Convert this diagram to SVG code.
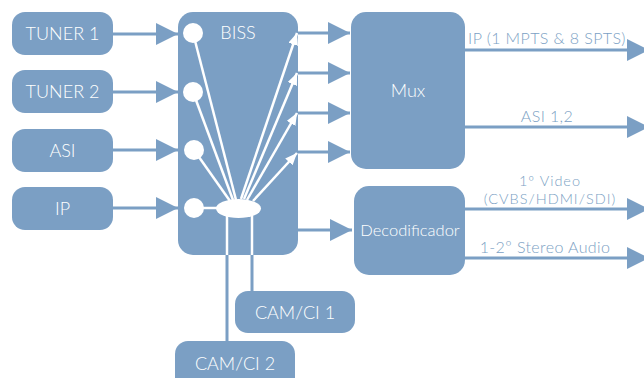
<svg xmlns="http://www.w3.org/2000/svg" width="644" height="378" viewBox="0 0 644 378">
<defs>
<style>
.box{fill:#7b9fc4}
.t{font-family:Lato,"Open Sans","Liberation Sans",sans-serif;font-weight:300;fill:#ffffff;text-anchor:middle}
.lbl{font-family:Lato,"Open Sans","Liberation Sans",sans-serif;font-weight:300;fill:#7b9fc4;text-anchor:middle;font-size:16px;letter-spacing:0.4px}
.sm{font-size:14.5px;letter-spacing:1px}
.c{stroke:#7b9fc4;stroke-width:3;fill:none}
.w{stroke:#ffffff;stroke-width:2.5;fill:none}
</style>
<marker id="ab" markerUnits="userSpaceOnUse" markerWidth="22" markerHeight="22" viewBox="0 0 20 20" refX="20" refY="10" orient="auto">
<path d="M0,0 L20,10 L0,20 Z" fill="#7b9fc4"/>
</marker>
<marker id="aw" markerUnits="userSpaceOnUse" markerWidth="12" markerHeight="10" viewBox="0 0 12 10" refX="12" refY="5" orient="auto">
<path d="M0,0 L12,5 L0,10 Z" fill="#ffffff"/>
</marker>
</defs>

<g id="tuner1"><rect class="box" x="12" y="12" width="101" height="43" rx="13"/><text class="t" x="62.5" y="40" font-size="18">TUNER 1</text></g>
<g id="tuner2"><rect class="box" x="12" y="70" width="101" height="43" rx="13"/><text class="t" x="62.5" y="98" font-size="18">TUNER 2</text></g>
<g id="asi"><rect class="box" x="12" y="129" width="101" height="43" rx="13"/><text class="t" x="62.5" y="157" font-size="18">ASI</text></g>
<g id="ip"><rect class="box" x="12" y="187" width="101" height="43" rx="13"/><text class="t" x="62.5" y="215" font-size="18">IP</text></g>

<g id="biss">
<rect class="box" x="178" y="12" width="120" height="243" rx="15"/>
<text class="t" x="238" y="39" font-size="18">BISS</text>
<circle cx="193" cy="33" r="10" fill="#fff"/>
<circle cx="193" cy="92" r="10" fill="#fff"/>
<circle cx="194" cy="150" r="10" fill="#fff"/>
<circle cx="194" cy="208" r="10" fill="#fff"/>
<ellipse cx="238.5" cy="208.5" rx="22.5" ry="9.5" fill="#fff"/>
<g class="w">
<line x1="194" y1="208" x2="217" y2="208"/>
<line x1="193" y1="33" x2="236" y2="200"/>
<line x1="193" y1="92" x2="233" y2="200"/>
<line x1="194" y1="150" x2="230" y2="201"/>
<line x1="241" y1="199" x2="297" y2="33" marker-end="url(#aw)"/>
<line x1="244" y1="199" x2="297" y2="73" marker-end="url(#aw)"/>
<line x1="247" y1="200" x2="297" y2="113" marker-end="url(#aw)"/>
<line x1="253" y1="201" x2="297" y2="153" marker-end="url(#aw)"/>
<line x1="227" y1="215" x2="227" y2="255"/>
<line x1="252" y1="215" x2="252" y2="255"/>
</g>
</g>

<g id="mux"><rect class="box" x="351" y="12" width="114" height="157" rx="15"/><text class="t" x="408" y="97" font-size="18">Mux</text></g>
<g id="decodificador"><rect class="box" x="354" y="186" width="111" height="89" rx="15"/><text class="t" x="410" y="236" font-size="16.5">Decodificador</text></g>
<g id="camci1"><rect class="box" x="235" y="291" width="120" height="42" rx="13"/><text class="t" x="295" y="319" font-size="18">CAM/CI 1</text></g>
<g id="camci2"><rect class="box" x="175" y="341" width="120" height="50" rx="13"/><text class="t" x="235" y="370" font-size="18">CAM/CI 2</text></g>

<g id="connectors">
<g class="c">
<line x1="113" y1="34" x2="178" y2="34" marker-end="url(#ab)"/>
<line x1="113" y1="92" x2="178" y2="92" marker-end="url(#ab)"/>
<line x1="113" y1="150" x2="178" y2="150" marker-end="url(#ab)"/>
<line x1="113" y1="208" x2="178" y2="208" marker-end="url(#ab)"/>
<line x1="298" y1="33" x2="350" y2="33" marker-end="url(#ab)"/>
<line x1="298" y1="73" x2="350" y2="73" marker-end="url(#ab)"/>
<line x1="298" y1="113" x2="350" y2="113" marker-end="url(#ab)"/>
<line x1="298" y1="152" x2="350" y2="152" marker-end="url(#ab)"/>
<line x1="298" y1="230" x2="352" y2="230" marker-end="url(#ab)"/>
<line x1="465" y1="50" x2="649" y2="50" marker-end="url(#ab)"/>
<line x1="465" y1="127" x2="649" y2="127" marker-end="url(#ab)"/>
<line x1="465" y1="209" x2="649" y2="209" marker-end="url(#ab)"/>
<line x1="465" y1="258" x2="649" y2="258" marker-end="url(#ab)"/>
<line x1="227" y1="255" x2="227" y2="341"/>
<line x1="252" y1="255" x2="252" y2="291"/>
</g>
<text class="lbl" x="547" y="44">IP (1 MPTS &amp; 8 SPTS)</text>
<text class="lbl" x="547" y="122">ASI 1,2</text>
<text class="lbl sm" x="550" y="186">1º Video</text>
<text class="lbl sm" x="550" y="204">(CVBS/HDMI/SDI)</text>
<text class="lbl" x="545" y="253">1-2º Stereo Audio</text>
</g>
</svg>
